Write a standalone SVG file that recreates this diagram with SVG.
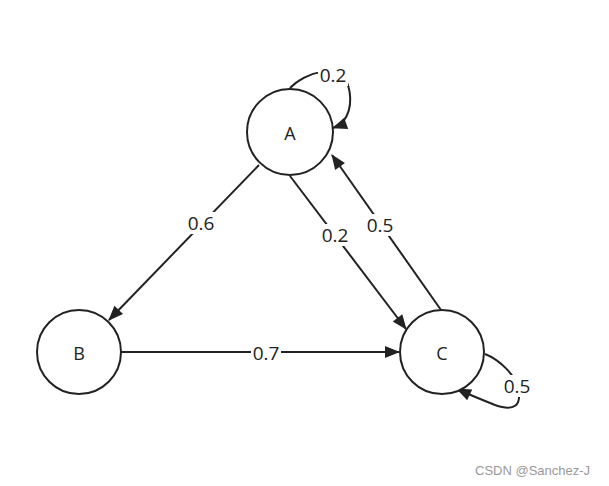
<svg xmlns="http://www.w3.org/2000/svg" width="609" height="486" viewBox="0 0 609 486">
<style>
.node{fill:#fff;stroke:#222;stroke-width:2}
.nl{font-family:"Open Sans","Noto Sans",sans-serif;font-size:18px;fill:#222;text-anchor:middle;dominant-baseline:central}
.edge{fill:none;stroke:#222;stroke-width:2}
.el{font-family:"Open Sans","Noto Sans",sans-serif;font-size:19px;fill:#222;text-anchor:middle;dominant-baseline:central}
.bg{fill:#fff}
.wm{font-family:"Liberation Sans",Arial,sans-serif;font-size:13px;fill:#999}
</style>
<defs>
<marker id="arr" markerWidth="16" markerHeight="14" refX="15" refY="7" orient="auto" markerUnits="userSpaceOnUse">
<path d="M1,1 L16,7 L1,13 Z" fill="#222"/>
</marker>
</defs>
<rect width="609" height="486" fill="#fff"/>
<g id="connectors">
<g id="e-A-B"><path class="edge" d="M259,165 L109,320" marker-end="url(#arr)"/><rect class="bg" x="186" y="212" width="30" height="22"/><text class="el" x="201" y="223">0.6</text></g>
<g id="e-A-C"><path class="edge" d="M290,176 L406,329" marker-end="url(#arr)"/><rect class="bg" x="320" y="224" width="30" height="22"/><text class="el" x="335" y="235">0.2</text></g>
<g id="e-C-A"><path class="edge" d="M441,310 L332,155" marker-end="url(#arr)"/><rect class="bg" x="365" y="214" width="30" height="22"/><text class="el" x="380" y="225">0.5</text></g>
<g id="e-B-C"><path class="edge" d="M121,352 L399,352" marker-end="url(#arr)"/><rect class="bg" x="251" y="342" width="30" height="22"/><text class="el" x="266" y="353">0.7</text></g>
<g id="e-A-A"><path class="edge" d="M290,88 C305,72 340,62 348,85 C353,102 350,122 333,128" marker-end="url(#arr)"/><rect class="bg" x="318" y="64" width="30" height="22"/><text class="el" x="333" y="75">0.2</text></g>
<g id="e-C-C"><path class="edge" d="M485,354 C500,360 515,375 518,388 C522,405 515,412 495,405 C485,401 470,395 457,389" marker-end="url(#arr)"/><rect class="bg" x="502" y="375" width="30" height="22"/><text class="el" x="517" y="386">0.5</text></g>
</g>
<g id="A"><circle class="node" cx="290" cy="132" r="43"/><text class="nl" x="290" y="133">A</text></g>
<g id="B"><circle class="node" cx="79" cy="352" r="42"/><text class="nl" x="79" y="353">B</text></g>
<g id="C"><circle class="node" cx="442" cy="352" r="42"/><text class="nl" x="442" y="353">C</text></g>
<text class="wm" x="475" y="475">CSDN @Sanchez-J</text>
</svg>
